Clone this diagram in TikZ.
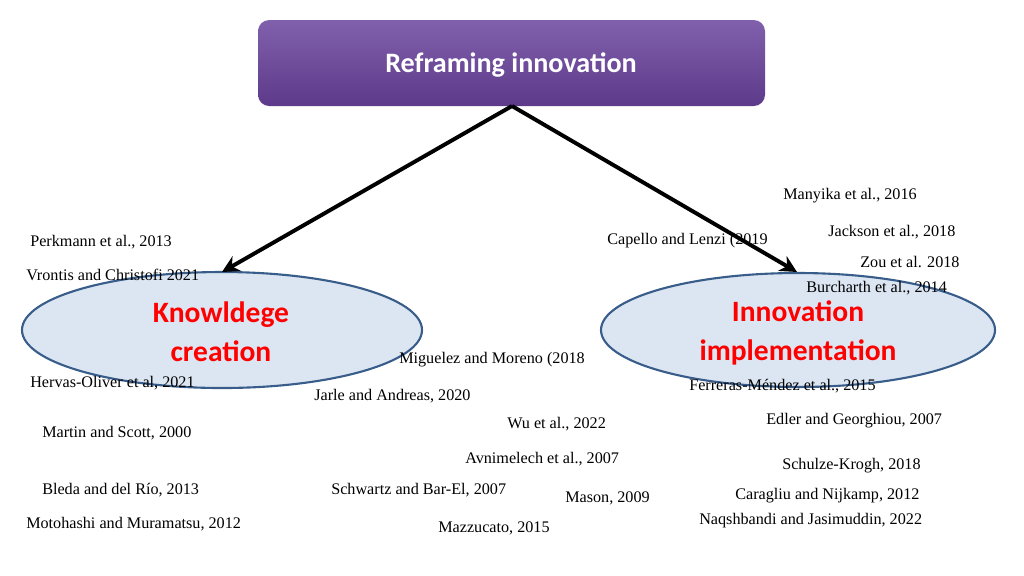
\documentclass[tikz,border=0pt]{standalone}
\usepackage{fontspec}
\setmainfont{Liberation Serif}
\newfontfamily\calib{Carlito}
\usetikzlibrary{arrows.meta}
\definecolor{boxtop}{RGB}{128, 96, 172}
\definecolor{boxbot}{RGB}{94, 58, 138}
\definecolor{ellfill}{RGB}{220, 230, 242}
\definecolor{elldraw}{RGB}{56, 93, 138}
\definecolor{headred}{RGB}{255, 0, 0}

\begin{document}
\begin{tikzpicture}[x=0.025cm, y=-0.025cm,
  cite/.style={anchor=west, inner sep=0, font=\fontsize{11.5}{13}\selectfont},
  head/.style={align=center, text=headred, font=\calib\bfseries\fontsize{21}{28}\selectfont},
  link/.style={line width=2.8pt, -{Stealth[length=12pt, width=12pt]}},
]
  \useasboundingbox (0, 0) rectangle (1024, 575);

  % title
  \shade[top color=boxtop, bottom color=boxbot, rounded corners=8pt] (258, 20) rectangle (765, 106);
  \node[text=white, font=\calib\bfseries\fontsize{20}{24}\selectfont] (title) at (511, 65) {Reframing innovation};
  \coordinate (top) at (512, 106);

  % two areas
  \draw[fill=ellfill, draw=elldraw, line width=1.5pt] (222, 330) ellipse [x radius=200, y radius=58];
  \draw[fill=ellfill, draw=elldraw, line width=1.5pt] (798, 330) ellipse [x radius=197, y radius=57];
  \node[head] (know) at (221, 332) {Knowldege\\creation};
  \node[head] (impl) at (798, 333) {Innovation\\implementation};
  \coordinate (kend) at (222, 272);
  \coordinate (iend) at (797, 272);

  \draw[link] (top) -- (kend);
  \draw[link] (top) -- (iend);

  % references
  \node[cite] (manyika) at (783, 196) {Manyika et al., 2016};
  \node[cite] (jackson) at (828, 232) {Jackson et al., 2018};
  \node[cite] (zou) at (860, 262) {Zou et al. 2018};
  \node[cite] (burch) at (806, 288) {Burcharth et al., 2014};
  \node[cite] (perk) at (30, 242) {Perkmann et al., 2013};
  \node[cite] (vront) at (26, 275) {Vrontis and Christofi 2021};
  \node[cite] (capello) at (607, 241) {Capello and Lenzi (2019};
  \node[cite] (migu) at (399, 360) {Miguelez and Moreno (2018};
  \node[cite] (hervas) at (30, 383) {Hervas-Oliver et al, 2021};
  \node[cite] (jarle) at (314, 396) {Jarle and Andreas, 2020};
  \node[cite] (ferr) at (689, 386) {Ferreras-Méndez et al., 2015};
  \node[cite] (edler) at (766, 421) {Edler and Georghiou, 2007};
  \node[cite] (wu) at (507, 424) {Wu et al., 2022};
  \node[cite] (martin) at (42, 433) {Martin and Scott, 2000};
  \node[cite] (avni) at (465, 459) {Avnimelech et al., 2007};
  \node[cite] (schulze) at (782, 466) {Schulze-Krogh, 2018};
  \node[cite] (bleda) at (42, 490) {Bleda and del Río, 2013};
  \node[cite] (schwartz) at (331, 490) {Schwartz and Bar-El, 2007};
  \node[cite] (mason) at (565, 498) {Mason, 2009};
  \node[cite] (cara) at (735, 496) {Caragliu and Nijkamp, 2012};
  \node[cite] (moto) at (26, 524) {Motohashi and Muramatsu, 2012};
  \node[cite] (naqsh) at (699, 521) {Naqshbandi and Jasimuddin, 2022};
  \node[cite] (mazz) at (438, 528) {Mazzucato, 2015};
\end{tikzpicture}
\end{document}
